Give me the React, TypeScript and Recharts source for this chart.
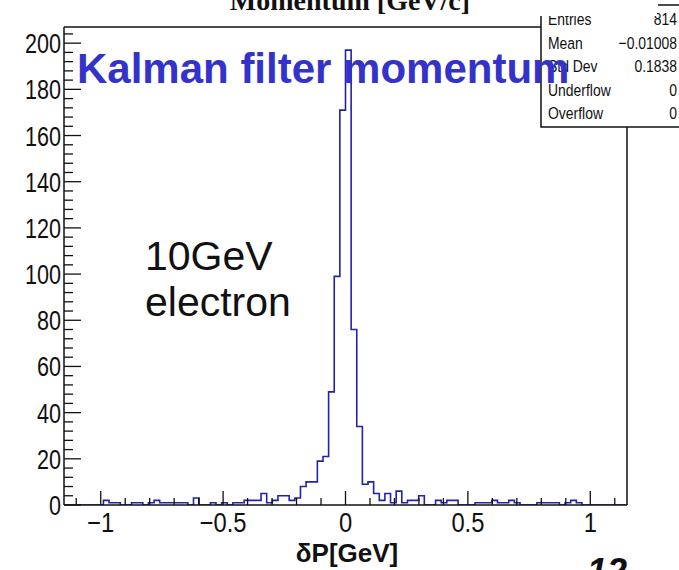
import React from 'react';
import { LineChart, Line, XAxis, YAxis, ReferenceLine } from 'recharts';

// δP histogram, 100 bins over [-1.15, 1.15]
const xMin = -1.15;
const xMax = 1.15;
const binCounts: number[] = [
  0, 0, 0, 0, 0, 0, 0, 2, 1, 1,
  0, 0, 1, 1, 0, 1, 2, 1, 1, 1,
  1, 1, 0, 3, 0, 0, 1, 0, 1, 0,
  1, 1, 2, 2, 2, 5, 1, 2, 4, 4,
  2, 3, 8, 10, 10, 19, 21, 49, 99, 171,
  197, 76, 34, 9, 10, 5, 2, 5, 1, 6,
  1, 2, 2, 4, 0, 0, 2, 1, 2, 2,
  0, 0, 0, 1, 1, 1, 2, 1, 1, 2,
  1, 0, 0, 0, 1, 1, 1, 1, 0, 1,
  2, 1, 0, 0, 0, 0, 0, 0, 0, 0,
];

const xMajorTicks = [-1, -0.5, 0, 0.5, 1];
const xMajorLabels = ['\u22121', '\u22120.5', '0', '0.5', '1'];
const xTicks = [
  -1.1, -1, -0.9, -0.8, -0.7, -0.6, -0.5, -0.4, -0.3, -0.2, -0.1,
  0, 0.1, 0.2, 0.3, 0.4, 0.5, 0.6, 0.7, 0.8, 0.9, 1, 1.1,
];
const yMajorTicks = [0, 20, 40, 60, 80, 100, 120, 140, 160, 180, 200];
const yTicks = yMajorTicks.flatMap((m) => [m, m + 4, m + 8, m + 12, m + 16]).filter((v) => v <= 204);

const statLabels = ['Entries', 'Mean', 'Std Dev', 'Underflow', 'Overflow'];
const statValues = ['814', '\u22120.01008', '0.1838', '0', '0'];

const binWidth = (xMax - xMin) / binCounts.length;
const histData = [
  ...binCounts.map((n, i) => ({ x: xMin + i * binWidth, n })),
  { x: xMax, n: binCounts[binCounts.length - 1] },
];

const sans = '"Liberation Sans", Arial, Helvetica, sans-serif';

// condensed Helvetica-like text, squeezed horizontally
const Narrow = ({ x, y, size, sx, anchor, children }: any) => (
  <text
    transform={`translate(${x},${y}) scale(${sx},1)`}
    textAnchor={anchor || 'start'}
    fontFamily={sans}
    fontSize={size}
    fill="#111"
  >
    {children}
  </text>
);

const XTick = (props: any) => {
  const { x, y, payload } = props;
  const idx = xMajorTicks.findIndex((t) => Math.abs(t - payload.value) < 1e-6);
  const major = idx >= 0;
  return (
    <g>
      <line x1={x} x2={x} y1={y} y2={y - (major ? 14 : 7)} stroke="#111" strokeWidth={1.3} />
      {major && (
        <Narrow x={x} y={y + 27} size={27} sx={0.88} anchor="middle">
          {xMajorLabels[idx]}
        </Narrow>
      )}
    </g>
  );
};

const YTick = (props: any) => {
  const { x, y, payload } = props;
  const major = yMajorTicks.includes(payload.value);
  return (
    <g>
      <line x1={x} x2={x + (major ? 17 : 9)} y1={y} y2={y} stroke="#111" strokeWidth={1.3} />
      {major && (
        <Narrow x={x - 3} y={y + 10} size={27} sx={0.8} anchor="end">
          {payload.value}
        </Narrow>
      )}
    </g>
  );
};

export default function App() {
  return (
    <div style={{ position: 'absolute', left: 0, top: 0, width: 679, height: 570, background: '#fff', overflow: 'hidden' }}>
      <LineChart
        width={679}
        height={570}
        data={histData}
        margin={{ top: 27, right: 52, bottom: 0, left: 0 }}
      >
        <XAxis
          type="number"
          dataKey="x"
          domain={[xMin, xMax]}
          ticks={xTicks}
          interval={0}
          tickSize={0}
          tickMargin={0}
          tickLine={false}
          tick={XTick}
          axisLine={{ stroke: '#111', strokeWidth: 1.5 }}
          height={65}
          allowDataOverflow
        />
        <YAxis
          type="number"
          domain={[0, 207]}
          ticks={yTicks}
          interval={0}
          tickSize={0}
          tickMargin={0}
          tickLine={false}
          tick={YTick}
          axisLine={{ stroke: '#111', strokeWidth: 1.5 }}
          width={64}
          allowDataOverflow
        />
        <ReferenceLine y={207} stroke="#111" strokeWidth={1.5} ifOverflow="visible" />
        <ReferenceLine x={xMax} stroke="#111" strokeWidth={1.5} ifOverflow="visible" />
        <Line
          type="stepAfter"
          dataKey="n"
          stroke="#2222aa"
          strokeWidth={1.6}
          dot={false}
          activeDot={false}
          isAnimationActive={false}
        />
      </LineChart>

      <svg width={679} height={570} style={{ position: 'absolute', left: 0, top: 0, pointerEvents: 'none' }}>
        {/* histogram title, cut off at the top */}
        <text x={350} y={10} textAnchor="middle" fontFamily='"Liberation Serif", "Times New Roman", serif' fontWeight="bold" fontSize={28} fill="#111">
          Momentum [GeV/c]
        </text>

        {/* stats box */}
        <rect x={541} y={5} width={160} height={122} fill="#fff" stroke="#111" strokeWidth={1.5} />
        {statLabels.map((l, i) => (
          <Narrow key={l} x={548} y={25 + i * 23.5} size={17} sx={0.82}>
            {l}
          </Narrow>
        ))}
        {statValues.map((v, i) => (
          <Narrow key={i} x={677} y={25 + i * 23.5} size={17} sx={0.82} anchor="end">
            {v}
          </Narrow>
        ))}
        <rect x={530} y={0} width={127} height={16} fill="#fff" />
        <rect x={657} y={0} width={22} height={8} fill="#fff" />
        <line x1={658} x2={679} y1={5} y2={5} stroke="#111" strokeWidth={1.5} />

        <text x={77} y={83} fontFamily={sans} fontWeight="bold" fontSize={42} fill="#3333cc">
          Kalman filter momentum
        </text>

        <text x={145} y={270} fontFamily={sans} fontSize={41} fill="#111">
          10GeV
        </text>
        <text x={145} y={316} fontFamily={sans} fontSize={41} fill="#111">
          electron
        </text>

        <text x={347} y={562} textAnchor="middle" fontFamily={sans} fontWeight="bold" fontSize={26} fill="#111">
          δP[GeV]
        </text>

        <text x={587} y={584} fontFamily={sans} fontWeight="bold" fontStyle="italic" fontSize={36} fill="#111">
          12
        </text>
      </svg>
    </div>
  );
}
